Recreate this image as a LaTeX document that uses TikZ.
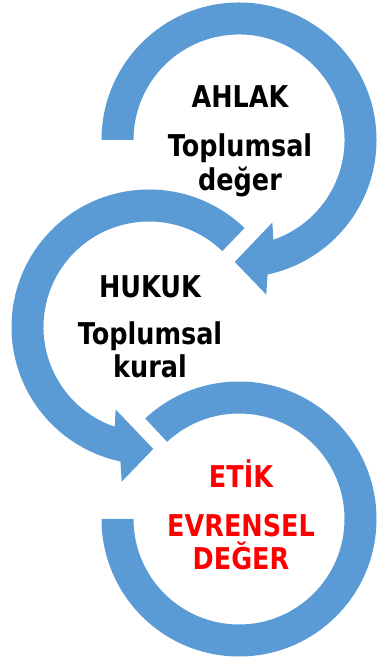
\documentclass[tikz,border=0pt]{standalone}
\usepackage{fontspec}
\newfontfamily\labelfont[FakeStretch=0.85]{DejaVu Sans}
\usepackage{tikz}

\definecolor{ringblue}{RGB}{91,155,213}
\newcommand{\outerR}{137.5}
\newcommand{\innerR}{105.5}

\begin{document}
\begin{tikzpicture}[x=1pt, y=1pt,
    ring/.style={fill=ringblue, draw=none},
    title/.style={font=\labelfont\bfseries\fontsize{30}{34}\selectfont, text=black,
        anchor=base, inner sep=0pt},
    special/.style={title, text=red}
    ]
    \useasboundingbox (0,0) rectangle (378,660);
    \coordinate (Ahlak) at (239,520);
    \coordinate (Hukuk) at (149,333);
    \coordinate (Etik) at (239,141);

    % ahlak ring, clockwise, arrow down into hukuk
    \fill[ring, shift={(Ahlak)}] (180:\outerR) arc[start angle=180, end angle=-78, radius=\outerR pt]
        -- (-80:157) -- (-92:122) -- (-68:89) -- (-71:\innerR)
        arc[start angle=-71, end angle=180, radius=\innerR pt] -- cycle;
    % hukuk ring, counter clockwise, arrow into etik
    \fill[ring, shift={(Hukuk)}] (46:\outerR) arc[start angle=46, end angle=258, radius=\outerR pt]
        -- (260:157) -- (272:122) -- (248:89) -- (251:\innerR)
        arc[start angle=251, end angle=46, radius=\innerR pt] -- cycle;
    % etik ring, no arrow
    \fill[ring, shift={(Etik)}] (133:\outerR) arc[start angle=133, end angle=-180, radius=\outerR pt]
        -- (180:\innerR) arc[start angle=-180, end angle=133, radius=\innerR pt] -- cycle;

    \node (AhlakTitle) [title] at (240,552) {AHLAK};
    \node (AhlakDesc1) [title] at (240,503) {Toplumsal};
    \node (AhlakDesc2) [title] at ([yshift=-34]AhlakDesc1.base) {değer};

    \node (HukukTitle) [title] at (150,362) {HUKUK};
    \node (HukukDesc1) [title] at (150,315) {Toplumsal};
    \node (HukukDesc2) [title] at ([yshift=-33]HukukDesc1.base) {kural};

    \node (EtikTitle) [special] at (241,172) {ETİK};
    \node (EtikDesc1) [special] at (241,123) {EVRENSEL};
    \node (EtikDesc2) [special] at ([yshift=-33]EtikDesc1.base) {DEĞER};
\end{tikzpicture}
\end{document}
